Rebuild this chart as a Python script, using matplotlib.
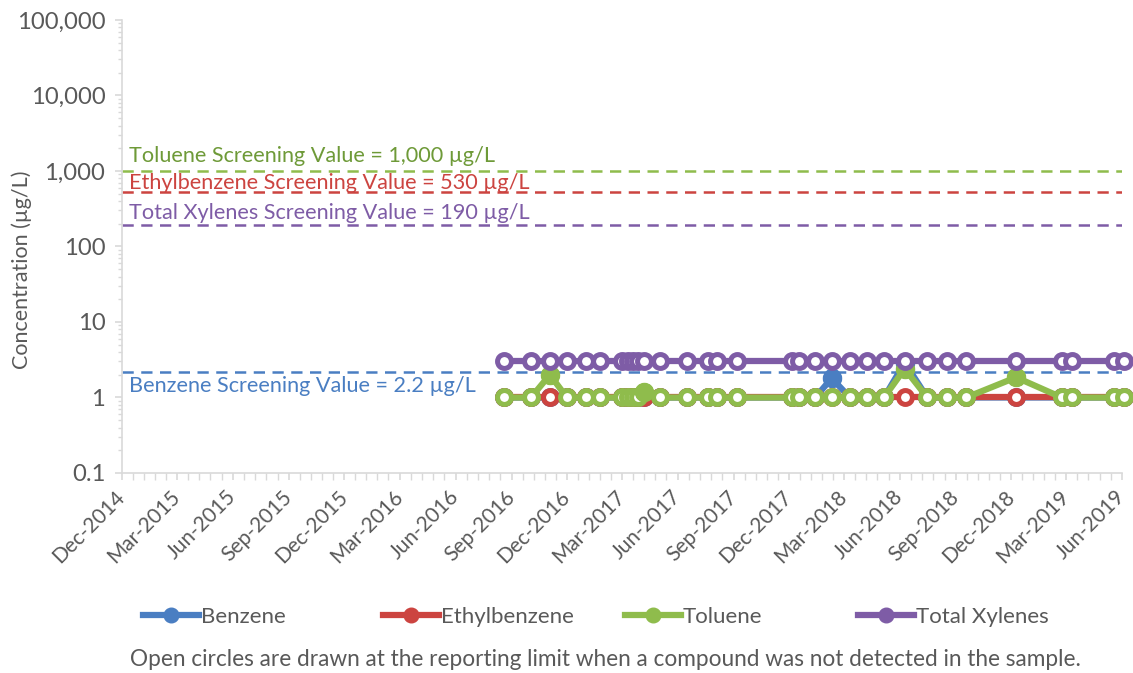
import matplotlib
matplotlib.use("Agg")
import matplotlib.pyplot as plt
import matplotlib.dates as mdates
from matplotlib.lines import Line2D
from matplotlib.ticker import FixedLocator, FuncFormatter, LogLocator, NullFormatter
import numpy as np
import pandas as pd

# ---------------- data ----------------
sample_dates = ["2016-08-20", "2016-10-03", "2016-11-03", "2016-12-01", "2017-01-02",
                "2017-01-24", "2017-03-01", "2017-03-11", "2017-03-20", "2017-03-28",
                "2017-04-07", "2017-05-03", "2017-06-16", "2017-07-21", "2017-08-05",
                "2017-09-06", "2017-12-06", "2017-12-17", "2018-01-13", "2018-02-09",
                "2018-03-11", "2018-04-08", "2018-05-06", "2018-06-09", "2018-07-16",
                "2018-08-17", "2018-09-18", "2018-12-09", "2019-02-22", "2019-03-11",
                "2019-05-19", "2019-06-04"]

benzene      = [1]*19 + [1.8] + [1, 1, 1] + [2.9] + [1]*8
benzene_det  = [0]*19 + [1] + [0, 0, 0] + [1] + [0]*8
ethylbenzene     = [1]*32
ethylbenzene_det = [0]*32
toluene      = [1, 1, 2.0] + [1]*7 + [1.2] + [1]*12 + [2.4] + [1]*3 + [1.85] + [1]*4
toluene_det  = [0, 0, 1] + [0]*7 + [1] + [0]*12 + [1] + [0]*3 + [1] + [0]*4
xylenes      = [3]*32
xylenes_det  = [0]*32

series_names = ["Benzene", "Ethylbenzene", "Toluene", "Total Xylenes"]
series_colors = ["#4A7EC2", "#CC4440", "#8FBC4C", "#7E5CA6"]
text_colors = ["#4A7EC2", "#CC4440", "#6E9A38", "#7E5CA6"]

screening_names = ["Benzene", "Ethylbenzene", "Toluene", "Total Xylenes"]
screening_values = [2.2, 530, 1000, 190]
screening_labels = ["Benzene Screening Value = 2.2 µg/L",
                    "Ethylbenzene Screening Value = 530 µg/L",
                    "Toluene Screening Value = 1,000 µg/L",
                    "Total Xylenes Screening Value = 190 µg/L"]

x_tick_labels = ["Dec-2014", "Mar-2015", "Jun-2015", "Sep-2015", "Dec-2015", "Mar-2016",
                 "Jun-2016", "Sep-2016", "Dec-2016", "Mar-2017", "Jun-2017", "Sep-2017",
                 "Dec-2017", "Mar-2018", "Jun-2018", "Sep-2018", "Dec-2018", "Mar-2019",
                 "Jun-2019"]
y_ticks = [0.1, 1, 10, 100, 1000, 10000, 100000]
y_tick_labels = ["0.1", "1", "10", "100", "1,000", "10,000", "100,000"]

note = "Open circles are drawn at the reporting limit when a compound was not detected in the sample."

# ---------------- plot ----------------
plt.rcParams['font.family'] = ['Lato', 'DejaVu Sans']
GRAY = "#595959"
AXC = "#D9D9D9"

fig = plt.figure(figsize=(11.33, 6.73), dpi=100)
ax = fig.add_axes([122/1133, 1-473/673, 1000/1133, 453/673])

dates = pd.to_datetime(sample_dates)
values = [benzene, ethylbenzene, toluene, xylenes]
dets = [benzene_det, ethylbenzene_det, toluene_det, xylenes_det]

for i, (vals, det, col) in enumerate(zip(values, dets, series_colors)):
    z = 3 + i
    vals = np.array(vals, dtype=float)
    det = np.array(det, dtype=bool)
    ax.plot(dates, vals, color=col, lw=4.5, zorder=z, solid_capstyle='round',
            solid_joinstyle='round',
            marker='o', ms=10, mfc='white', mec=col, mew=3.6, clip_on=False)
    if det.any():
        ax.plot(dates[det], vals[det], ls='none', marker='o', ms=13, mfc=col, mec=col,
                zorder=z + 0.5, clip_on=False)

# screening lines
xmin = pd.Timestamp("2014-12-01")
xmax = pd.Timestamp("2019-06-01")
for name, val in zip(screening_names, screening_values):
    col = series_colors[series_names.index(name)]
    ax.axhline(val, color=col, lw=1.8, ls=(0, (4.5, 3)), zorder=2)

# screening labels
lab_pos = {"Toluene": 1580, "Ethylbenzene": 700, "Total Xylenes": 280, "Benzene": 1.42}
for name, lab in zip(screening_names, screening_labels):
    tcol = text_colors[series_names.index(name)]
    ax.text(mdates.date2num(xmin) + 11, lab_pos[name], lab, color=tcol, fontsize=15.6,
            va='center', ha='left', zorder=10)

ax.set_yscale('log')
ax.set_ylim(0.1, 100000)
ax.set_xlim(xmin, xmax)

ax.yaxis.set_major_locator(FixedLocator(y_ticks))
ax.yaxis.set_major_formatter(FuncFormatter(lambda v, p: y_tick_labels[y_ticks.index(v)] if v in y_ticks else ""))
ax.yaxis.set_minor_locator(LogLocator(base=10, subs=np.arange(2, 10)))
ax.yaxis.set_minor_formatter(NullFormatter())

major_dates = pd.date_range("2014-12-01", "2019-06-01", freq="3MS")
major_nums = mdates.date2num(major_dates)
ax.set_xticks(major_nums)
ax.set_xticklabels(x_tick_labels, rotation=45, ha='right', va='center', rotation_mode='anchor')
minor_nums = []
for a, b in zip(major_nums[:-1], major_nums[1:]):
    minor_nums.extend(np.linspace(a, b, 6)[1:-1])
ax.set_xticks(minor_nums, minor=True)

for s in ['top', 'right']:
    ax.spines[s].set_visible(False)
for s in ['left', 'bottom']:
    ax.spines[s].set_color(AXC)
    ax.spines[s].set_linewidth(1.2)

ax.tick_params(axis='both', which='both', colors=AXC, labelcolor=GRAY)
ax.tick_params(axis='y', which='major', length=5, width=1.2, pad=7, labelsize=17.2)
ax.tick_params(axis='y', which='minor', length=3, width=1)
ax.tick_params(axis='x', which='major', length=5, width=1.2, pad=10, labelsize=15)
ax.tick_params(axis='x', which='minor', length=5, width=1)

fig.text(22/1133, 1-270/673, "Concentration (µg/L)", rotation=90, va='center', ha='center',
         fontsize=15.5, color=GRAY)

# legend entries placed individually
legend_x = [143, 383, 625, 858]
for name, c, lx in zip(series_names, series_colors, legend_x):
    h = Line2D([0], [0], color=c, lw=4.5, marker='o', ms=10.5, mfc=c, mec=c)
    fig.legend([h], [name], loc='center left', bbox_to_anchor=(lx/1133, 1-617/673),
               frameon=False, fontsize=16, handlelength=2.5, handletextpad=0.1,
               borderpad=0, borderaxespad=0, labelcolor=GRAY)

fig.text(605/1133, 1-660/673, note, ha='center', va='center', fontsize=16.3, color=GRAY)

fig.savefig("out.png", dpi=100)
